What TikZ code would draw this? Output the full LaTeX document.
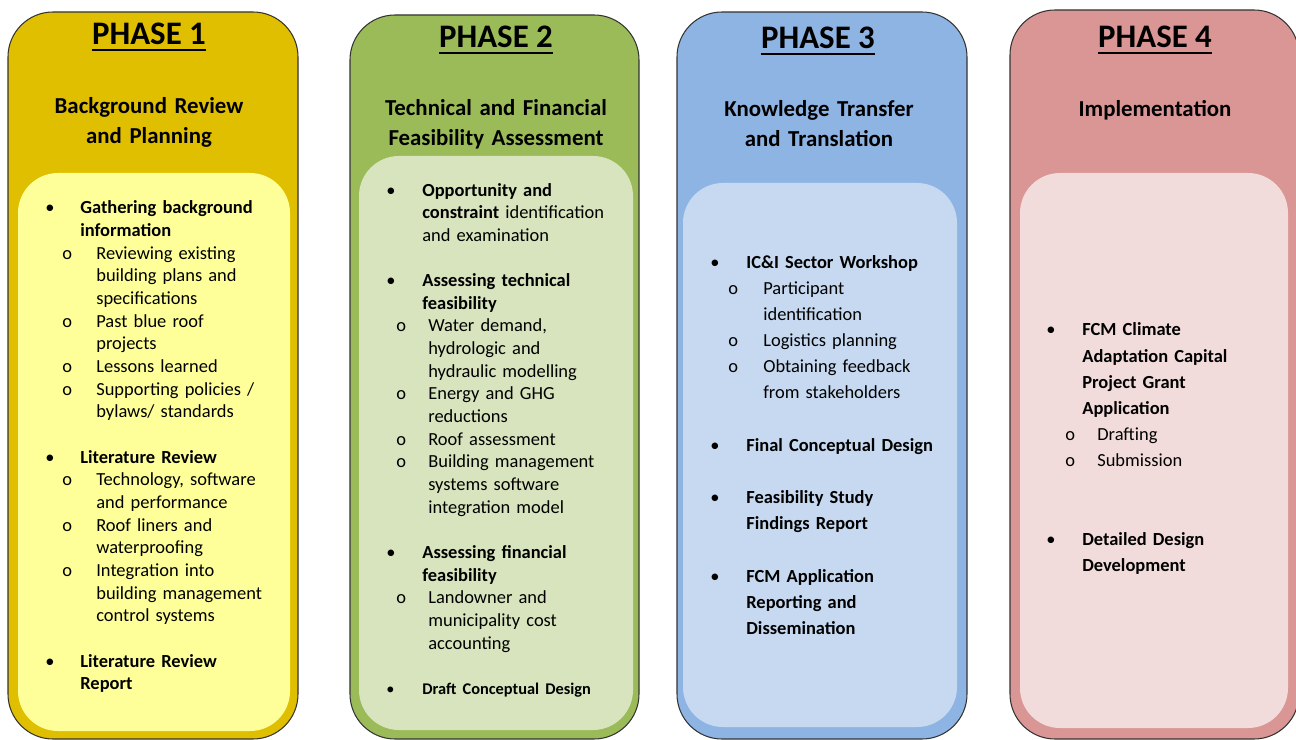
\documentclass[tikz,border=0pt]{standalone}
\usepackage{fontspec}
\setmainfont{Carlito}
\usetikzlibrary{calc}

\definecolor{goldout}{HTML}{E0BF00}
\definecolor{goldin}{HTML}{FFFF99}
\definecolor{greenout}{HTML}{9BBB59}
\definecolor{greenin}{HTML}{D7E4BD}
\definecolor{blueout}{HTML}{8EB4E3}
\definecolor{bluein}{HTML}{C6D9F1}
\definecolor{redout}{HTML}{D99694}
\definecolor{redin}{HTML}{F2DCDB}

% indents of the task lists
\newlength\bulw \newlength\subo \newlength\subw
\newcommand\listindents[3]{\setlength\bulw{#1}\setlength\subo{#2}\setlength\subw{#3}}
\newcommand\bitem[1]{\makebox[\bulw][l]{\textbullet}\textbf{#1}}
\newcommand\pcont[1]{\hspace*{\bulw}#1}
\newcommand\bcont[1]{\pcont{\textbf{#1}}}
\newcommand\sitem[1]{\hspace*{\subo}\makebox[\dimexpr\subw-\subo\relax][l]{o}#1}
\newcommand\scont[1]{\hspace*{\subw}#1}

\begin{document}
\begin{tikzpicture}[
    x = 0.02cm, y = -0.02cm,
    outer box/.style   = {draw=black!80, line width=0.6pt, rounded corners=0.9cm},
    inner box/.style   = {rounded corners=0.8cm},
    phase title/.style = {anchor=base, inner sep=0pt, font=\fontsize{18.7}{22}\selectfont\bfseries},
    title rule/.style  = {line width=1.1pt},
    phase name/.style  = {anchor=base, inner sep=0pt, text width=6cm, align=center,
                          font=\fontsize{13}{17}\selectfont\bfseries},
    task list/.style   = {anchor=base west, inner sep=0pt, text width=5.2cm, align=left,
                          font=\fontsize{10.5}{12.9}\selectfont},
    wide list/.style   = {task list, font=\fontsize{10.5}{14.9}\selectfont}
]
\useasboundingbox (0,0) rectangle (1296,740);
\clip (0,0) rectangle (1296,740);

% panels
\foreach \l/\t/\r/\il/\it/\ir/\ib/\col in
   {8/12/298/18/173/290/731/gold, 350/15/639/359/156/633/730/green,
    677/12/967/683/183/957/727/blue, 1010/10/1299/1020/173/1288/728/red}
{
  \draw[outer box, fill=\col out] (\l,\t) rectangle (\r,739);
  \fill[inner box, \col in] (\il,\it) rectangle (\ir,\ib);
}

% titles
\foreach \n/\cx/\by in {1/149/45, 2/496/48, 3/818/49, 4/1155/48}
{
  \node[phase title] (title\n) at (\cx,\by) {PHASE \n};
  \draw[title rule] ($(title\n.base west)+(0,5)$) -- ($(title\n.base east)+(0,5)$);
}

\node[phase name] (name1) at (149,114)  {Background Review\\and Planning};
\node[phase name] (name2) at (496,116)  {Technical and Financial\\Feasibility Assessment};
\node[phase name] (name3) at (819,117)  {Knowledge Transfer\\and Translation};
\node[phase name] (name4) at (1155,117) {Implementation};

% phase 1
\node[task list] (list1) at (45,214) {\listindents{0.70cm}{0.34cm}{1.02cm}%
  \bitem{Gathering background}\\
  \bcont{information}\\
  \sitem{Reviewing existing}\\
  \scont{building plans and}\\
  \scont{specifications}\\
  \sitem{Past blue roof}\\
  \scont{projects}\\
  \sitem{Lessons learned}\\
  \sitem{Supporting policies /}\\
  \scont{bylaws/ standards}\\
  \mbox{}\\
  \bitem{Literature Review}\\
  \sitem{Technology, software}\\
  \scont{and performance}\\
  \sitem{Roof liners and}\\
  \scont{waterproofing}\\
  \sitem{Integration into}\\
  \scont{building management}\\
  \scont{control systems}\\
  \mbox{}\\
  \bitem{Literature Review}\\
  \bcont{Report}};

% phase 2
\node[task list] (list2) at (386,196) {\listindents{0.72cm}{0.20cm}{0.84cm}%
  \bitem{Opportunity and}\\
  \pcont{\textbf{constraint} identification}\\
  \pcont{and examination}\\
  \mbox{}\\
  \bitem{Assessing technical}\\
  \bcont{feasibility}\\
  \sitem{Water demand,}\\
  \scont{hydrologic and}\\
  \scont{hydraulic modelling}\\
  \sitem{Energy and GHG}\\
  \scont{reductions}\\
  \sitem{Roof assessment}\\
  \sitem{Building management}\\
  \scont{systems software}\\
  \scont{integration model}\\
  \mbox{}\\
  \bitem{Assessing financial}\\
  \bcont{feasibility}\\
  \sitem{Landowner and}\\
  \scont{municipality cost}\\
  \scont{accounting}\\
  \mbox{}\\
  {\fontsize{9.3}{12.9}\selectfont\bitem{Draft Conceptual Design}}};

% phase 3
\node[wide list] (list3) at (710,268) {\listindents{0.72cm}{0.36cm}{1.06cm}%
  \bitem{IC\&I Sector Workshop}\\
  \sitem{Participant}\\
  \scont{identification}\\
  \sitem{Logistics planning}\\
  \sitem{Obtaining feedback}\\
  \scont{from stakeholders}\\
  \mbox{}\\
  \bitem{Final Conceptual Design}\\
  \mbox{}\\
  \bitem{Feasibility Study}\\
  \bcont{Findings Report}\\
  \mbox{}\\
  \bitem{FCM Application}\\
  \bcont{Reporting and}\\
  \bcont{Dissemination}};

% phase 4
\node[wide list] (list4) at (1046,336) {\listindents{0.72cm}{0.38cm}{1.02cm}%
  \bitem{FCM Climate}\\
  \bcont{Adaptation Capital}\\
  \bcont{Project Grant}\\
  \bcont{Application}\\
  \sitem{Drafting}\\
  \sitem{Submission}\\
  \mbox{}\\
  \mbox{}\\
  \bitem{Detailed Design}\\
  \bcont{Development}};

\end{tikzpicture}
\end{document}
